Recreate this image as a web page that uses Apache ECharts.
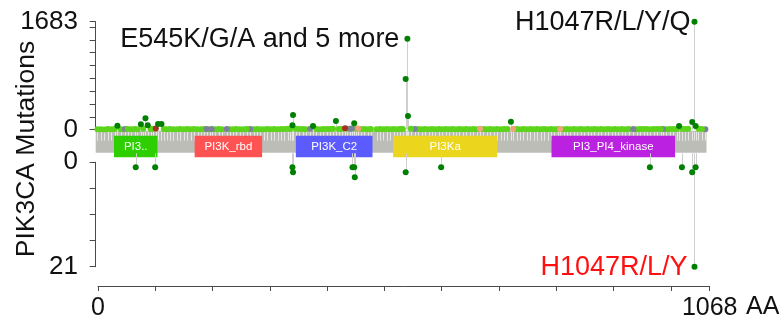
<!DOCTYPE html>
<html>
<head>
<meta charset="utf-8">
<script src="https://cdn.jsdelivr.net/npm/echarts@6/dist/echarts.min.js"></script>
<style>
  html, body { margin: 0; padding: 0; background: #ffffff; }
  #chart { width: 779px; height: 323px; }
</style>
</head>
<body>
<div id="chart"></div>
<script>
// PIK3CA protein, 1068 amino acids
const proteinLength = 1068;
const lengthUnit = 'AA';

// Upper track: mutation positions (AA) and their counts
const topPos = [3, 9, 15, 21, 27, 33, 38, 44, 51, 56, 62, 68, 73, 79, 83, 87, 91, 96, 100, 105, 109, 115, 119, 124, 130, 136, 142, 148, 154, 160, 166, 172, 178, 184, 189, 194, 199, 203, 209, 215, 221, 229, 234, 240, 246, 252, 258, 264, 270, 276, 282, 288, 294, 300, 306, 312, 318, 324, 330, 336, 340, 344, 345, 350, 356, 362, 367, 375, 380, 386, 392, 398, 404, 410, 415, 420, 425, 430, 436, 440, 445, 448, 452, 456, 459, 464, 470, 476, 481, 491, 497, 503, 509, 515, 521, 527, 532, 537, 542, 545, 546, 551, 558, 564, 570, 576, 582, 588, 594, 600, 606, 612, 618, 624, 630, 636, 642, 648, 654, 660, 666, 672, 678, 684, 690, 696, 702, 708, 714, 720, 726, 730, 736, 742, 748, 754, 760, 766, 772, 778, 784, 790, 796, 802, 808, 812, 818, 824, 830, 836, 842, 848, 854, 860, 866, 872, 878, 884, 890, 896, 902, 908, 914, 920, 926, 932, 940, 946, 952, 958, 964, 970, 976, 982, 988, 992, 998, 1004, 1010, 1016, 1020, 1025, 1031, 1036, 1043, 1047, 1049, 1054, 1060, 1066];
const topCount = [6, 8, 5, 9, 7, 11, 60, 8, 9, 12, 7, 10, 6, 84, 14, 178, 69, 12, 9, 18, 89, 89, 10, 7, 9, 6, 8, 11, 7, 9, 6, 10, 8, 7, 9, 12, 8, 11, 7, 9, 6, 10, 8, 7, 9, 6, 8, 10, 9, 7, 11, 8, 6, 9, 7, 10, 8, 12, 9, 14, 11, 70, 229, 13, 9, 11, 8, 15, 58, 10, 8, 12, 9, 11, 14, 135, 12, 10, 22, 13, 16, 18, 100, 15, 20, 11, 9, 8, 10, 7, 9, 8, 11, 7, 10, 8, 12, 9, 790, 1416, 213, 14, 12, 9, 8, 10, 7, 9, 8, 11, 7, 9, 8, 10, 7, 9, 8, 11, 7, 9, 8, 13, 9, 7, 10, 8, 9, 7, 10, 12, 125, 14, 9, 8, 10, 7, 9, 8, 11, 7, 9, 8, 10, 7, 9, 12, 8, 10, 7, 9, 8, 11, 7, 9, 8, 10, 7, 9, 8, 11, 7, 9, 8, 10, 7, 9, 12, 8, 10, 9, 11, 8, 10, 9, 12, 10, 8, 11, 9, 12, 58, 14, 11, 16, 120, 1683, 58, 13, 10, 8];

// Mutation classes along the upper track (by position)
const topDriver = [38, 79, 87, 91, 109, 115, 344, 345, 380, 420, 452, 542, 545, 546, 726, 1020, 1043, 1047, 1049];
const topTruncating = [51, 194, 203, 229, 270, 375, 445, 448, 558, 940, 992, 1066];
const topInframe = [105, 436];
const topOther = [459, 672, 730, 812];

// Lower track: mutation positions (AA) and their counts
const bottomPos = [70, 104, 344, 345, 449, 452, 453, 542, 604, 969, 1025, 1043, 1047, 1049];
const bottomCount = [1, 1, 1, 2, 1, 1, 3, 2, 1, 1, 1, 2, 21, 1];

// Pfam domains
const domainNames = ['PI3..', 'PI3K_rbd', 'PI3K_C2', 'PI3Ka', 'PI3_PI4_kinase'];
const domainStart = [32, 173, 350, 520, 797];
const domainEnd = [108, 291, 484, 702, 1013];
const domainColors = ['#2dcf00', '#ff5353', '#5b5bff', '#ebd61d', '#ba21e0'];

// Hotspot annotations
const topLabelPos = [545, 1047];
const topLabelText = ['E545K/G/A and 5 more', 'H1047R/L/Y/Q'];
const bottomLabelPos = [1047];
const bottomLabelText = ['H1047R/L/Y'];

// Axis ticks and tick labels
const topTicks = [0, 200, 400, 600, 800, 1000, 1200, 1400, 1600, 1683];
const topTickLabels = [0, 1683];
const bottomTicks = [0, 5.25, 10.5, 15.75, 21];
const bottomTickLabels = [0, 21];
const xTicks = [0, 100, 200, 300, 400, 500, 600, 700, 800, 900, 1000, 1068];
const xTickLabels = [0, 1068];

const FONT = "'Liberation Sans', Arial, Helvetica, sans-serif";
const INK = '#111111';
const COLORS = {
  vus: '#5cd41a',
  driver: '#008000',
  truncating: '#7c8098',
  inframe: '#a8301c',
  other: '#f2a27a'
};

function classColor(p) {
  if (topDriver.includes(p)) return COLORS.driver;
  if (topTruncating.includes(p)) return COLORS.truncating;
  if (topInframe.includes(p)) return COLORS.inframe;
  if (topOther.includes(p)) return COLORS.other;
  return COLORS.vus;
}

const plain = v => String(v);

// Lollipop heads
const topHeads = topPos.map((p, i) => {
  const item = { value: [p, topCount[i]], itemStyle: { color: classColor(p), opacity: 1 } };
  const li = topLabelPos.indexOf(p);
  if (li >= 0) {
    item.label = {
      show: true, position: 'left', distance: p === 545 ? 5 : 1,
      formatter: topLabelText[li], color: INK, opacity: 1,
      fontSize: 27, fontFamily: FONT, offset: [0, 1]
    };
  }
  return item;
}).sort((a, b) => a.value[1] - b.value[1]);

const bottomHeads = bottomPos.map((p, i) => {
  const item = { value: [p, bottomCount[i]], itemStyle: { color: COLORS.driver, opacity: 1 } };
  const li = bottomLabelPos.indexOf(p);
  if (li >= 0) {
    item.label = {
      show: true, position: 'left', distance: 4,
      formatter: bottomLabelText[li], color: '#ff1010', opacity: 1,
      fontSize: 27, fontFamily: FONT, offset: [0, 1]
    };
  }
  return item;
});

const L = 95.7, W = 610.8;
const axisLineStyle = { color: '#4a4a4a', width: 1 };

function stemRenderer(extendUp) {
  return function (params, api) {
    const p0 = api.coord([api.value(0), 0]);
    const p1 = api.coord([api.value(0), api.value(1)]);
    const x = Math.round(p0[0]) + 0.5;
    return {
      type: 'line',
      shape: { x1: x, y1: p0[1] - extendUp, x2: x, y2: p1[1] },
      style: { stroke: '#cfcfcf', lineWidth: 1 }
    };
  };
}

const chart = echarts.init(document.getElementById('chart'), null, { renderer: 'canvas' });

chart.setOption({
  animation: false,
  backgroundColor: '#ffffff',
  grid: [
    { left: L, width: W, top: 21.7, height: 108 },     // upper lollipops
    { left: L, width: W, top: 162.3, height: 104.4 },  // lower lollipops
    { left: L, width: W, top: 129.7, height: 32.6 },   // sequence bar
    { left: 98, width: 611.7, top: 200, height: 86 }   // position axis
  ],
  xAxis: [
    { gridIndex: 0, type: 'value', min: 0, max: proteinLength, show: false },
    { gridIndex: 1, type: 'value', min: 0, max: proteinLength, show: false },
    { gridIndex: 2, type: 'value', min: 0, max: proteinLength, show: false },
    {
      gridIndex: 3, type: 'value', min: 0, max: proteinLength,
      axisLine: { show: true, lineStyle: axisLineStyle },
      axisTick: { show: true, length: 5, customValues: xTicks, lineStyle: axisLineStyle },
      axisLabel: {
        show: true, customValues: xTickLabels, margin: 10, formatter: plain,
        color: INK, fontSize: 25, fontFamily: FONT
      },
      splitLine: { show: false }
    }
  ],
  yAxis: [
    {
      gridIndex: 0, type: 'value', min: 0, max: 1683, offset: 9.7,
      axisLine: { show: true, lineStyle: axisLineStyle },
      axisTick: { show: true, length: 6, customValues: topTicks, lineStyle: axisLineStyle },
      axisLabel: { customValues: topTickLabels, margin: 8, formatter: plain, color: INK, fontSize: 26, fontFamily: FONT },
      splitLine: { show: false }
    },
    {
      gridIndex: 1, type: 'value', min: 0, max: 21, inverse: true, offset: 9.7,
      axisLine: { show: true, lineStyle: axisLineStyle },
      axisTick: { show: true, length: 6, customValues: bottomTicks, lineStyle: axisLineStyle },
      axisLabel: { customValues: bottomTickLabels, margin: 8, formatter: plain, color: INK, fontSize: 26, fontFamily: FONT },
      splitLine: { show: false }
    },
    { gridIndex: 2, type: 'value', min: 0, max: 1, show: false },
    { gridIndex: 3, type: 'value', min: 0, max: 1, show: false }
  ],
  graphic: [
    {
      type: 'text', x: 27, y: 149, rotation: Math.PI / 2,
      style: {
        text: 'PIK3CA Mutations', x: 0, y: 0, align: 'center', verticalAlign: 'middle',
        fill: INK, font: '26.5px ' + FONT
      }
    },
    {
      // unit after the last position label
      type: 'text', x: 746, y: 307,
      style: {
        text: lengthUnit, x: 0, y: 0, align: 'left', verticalAlign: 'middle',
        fill: INK, font: '25px ' + FONT
      }
    }
  ],
  series: [
    // sequence bar with position stripes
    {
      type: 'custom', xAxisIndex: 2, yAxisIndex: 2, z: 1, silent: true,
      data: [[0, proteinLength]],
      renderItem: function (params, api) {
        const cs = params.coordSys;
        const a = api.coord([api.value(0), 0]);
        const b = api.coord([api.value(1), 0]);
        const children = [{
          type: 'rect',
          shape: { x: a[0], y: cs.y + 1, width: b[0] - a[0], height: 22 },
          style: { fill: '#bdbdb7' }
        }];
        topPos.forEach(function (p) {
          const c = api.coord([p, 0]);
          const x = Math.round(c[0]) + 0.5;
          children.push({
            type: 'line',
            shape: { x1: x, y1: cs.y + 2, x2: x, y2: cs.y + 11 },
            style: { stroke: '#e6e6e2', lineWidth: 1 }
          });
        });
        return { type: 'group', children: children };
      }
    },
    // domains
    {
      type: 'custom', xAxisIndex: 2, yAxisIndex: 2, z: 2, silent: true,
      data: domainNames.map((n, i) => [domainStart[i], domainEnd[i], i]),
      renderItem: function (params, api) {
        const cs = params.coordSys;
        const a = api.coord([api.value(0), 0]);
        const b = api.coord([api.value(1), 0]);
        const i = api.value(2);
        return {
          type: 'group',
          children: [
            {
              type: 'rect',
              shape: { x: a[0], y: cs.y + 6, width: b[0] - a[0], height: 21.5 },
              style: { fill: domainColors[i] }
            },
            {
              type: 'text',
              style: {
                text: domainNames[i], x: (a[0] + b[0]) / 2, y: cs.y + 17,
                align: 'center', verticalAlign: 'middle',
                fill: '#ffffff', font: '11.5px ' + FONT
              }
            }
          ]
        };
      }
    },
    // upper stems
    {
      type: 'custom', xAxisIndex: 0, yAxisIndex: 0, z: 3, silent: true, clip: false,
      data: topPos.map((p, i) => [p, topCount[i]]),
      renderItem: stemRenderer(0)
    },
    // lower stems
    {
      type: 'custom', xAxisIndex: 1, yAxisIndex: 1, z: 3, silent: true, clip: false,
      data: bottomPos.map((p, i) => [p, bottomCount[i]]),
      renderItem: stemRenderer(9)
    },
    // upper heads
    {
      type: 'scatter', xAxisIndex: 0, yAxisIndex: 0, z: 5, clip: false,
      symbol: 'circle', symbolSize: 6, itemStyle: { opacity: 1 },
      data: topHeads
    },
    // lower heads
    {
      type: 'scatter', xAxisIndex: 1, yAxisIndex: 1, z: 5, clip: false,
      symbol: 'circle', symbolSize: 6, itemStyle: { opacity: 1 },
      data: bottomHeads
    }
  ]
});
</script>
</body>
</html>
